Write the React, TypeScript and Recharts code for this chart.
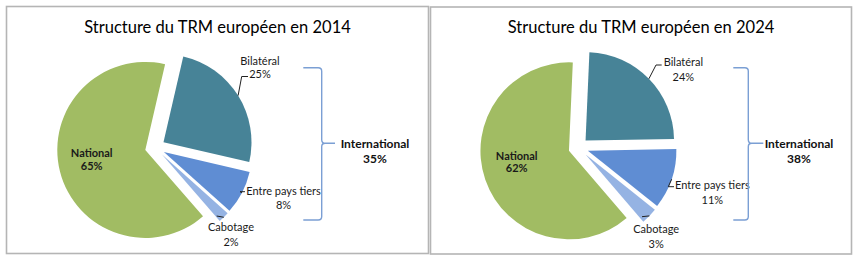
import React from "react";
import { PieChart, Pie, Cell } from "recharts";

// parts of the European road freight market (TRM), in %
const categories = ["Bilatéral", "Entre pays tiers", "Cabotage", "National"];
const share2014 = [25, 8, 2, 65];
const share2024 = [24, 11, 3, 62];
const international2014 = 35;
const international2024 = 38;

const COLORS = ["#478397", "#5f8dd3", "#95b3e3", "#a1bc63"];
const FONT = "Lato, 'Open Sans', sans-serif";
const EXPLODE = 10;
const RAD = Math.PI / 180;

type Pt = [number, number];
type LabelCfg = { at: Pt; gap: number; leader?: Pt[]; bold?: boolean };

// label text / leader positions, relative to the pie centre
const labels2014: LabelCfg[] = [
  { at: [110, -82], gap: 13, leader: [[91.7, -66], [98, -66]] },
  { at: [133.5, 47.5], gap: 14, leader: [[90, 49.2], [95, 49.2]] },
  { at: [81, 84.2], gap: 14.3, leader: [[66.7, 73.5]] },
  { at: [-58.3, 10.2], gap: 13, bold: true },
];

const labels2024: LabelCfg[] = [
  { at: [110, -80.9], gap: 14.3, leader: [[82.6, -77.6], [88.3, -77.6]] },
  { at: [139, 41.7], gap: 14.7, leader: [[94.9, 44.1], [100.6, 44.1]] },
  { at: [82.8, 85.7], gap: 14.7, leader: [[68.6, 74.1]] },
  { at: [-56.7, 12.4], gap: 12, bold: true },
];

type PanelProps = {
  values: number[];
  left: number;
  cx: number;
  cy: number;
  r: number;
  firstAngle: number;
  labels: LabelCfg[];
};

function PiePanel({ values, left, cx, cy, r, firstAngle, labels }: PanelProps) {
  const data = categories.map((name, i) => ({ name, value: values[i] }));
  const total = values.reduce((a, b) => a + b, 0);
  const start = 90 - firstAngle;
  let acc = 0;
  const mids = values.map((v) => {
    const m = start - ((acc + v / 2) / total) * 360;
    acc += v;
    return m;
  });

  const renderLabel = (p: any, i: number) => {
    if (p.index !== i) return null;
    const cfg = labels[i];
    const m = p.midAngle * RAD;
    const sx = p.cx + p.outerRadius * Math.cos(m);
    const sy = p.cy - p.outerRadius * Math.sin(m);
    const pts = cfg.leader
      ? [[sx, sy], ...cfg.leader.map(([x, y]) => [cx + x, cy + y])]
      : null;
    const tx = cx + cfg.at[0];
    const ty = cy + cfg.at[1];
    return (
      <g key={"lbl" + i}>
        {pts && (
          <polyline
            points={pts.map((q) => q.join(",")).join(" ")}
            fill="none"
            stroke="#222"
            strokeWidth={1}
          />
        )}
        <text
          x={tx}
          y={ty}
          textAnchor="middle"
          dominantBaseline="central"
          fontFamily={FONT}
          fontSize={11}
          fontWeight={cfg.bold ? 700 : 400}
          fill="#1a1a1a"
        >
          {categories[i]}
        </text>
        <text
          x={tx}
          y={ty + cfg.gap}
          textAnchor="middle"
          dominantBaseline="central"
          fontFamily={FONT}
          fontSize={11}
          fontWeight={cfg.bold ? 700 : 400}
          fill="#1a1a1a"
        >
          {values[i]}%
        </text>
      </g>
    );
  };

  return (
    <div style={{ position: "absolute", left, top: 0 }}>
      <PieChart width={430} height={260}>
        {data.map((d, i) => (
          <Pie
            key={d.name}
            data={data}
            dataKey="value"
            nameKey="name"
            cx={cx + EXPLODE * Math.cos(mids[i] * RAD)}
            cy={cy - EXPLODE * Math.sin(mids[i] * RAD)}
            innerRadius={0}
            outerRadius={r}
            startAngle={start}
            endAngle={start - 360}
            stroke="none"
            labelLine={false}
            label={(p: any) => renderLabel(p, i)}
            isAnimationActive={false}
          >
            {data.map((_, j) => (
              <Cell key={j} fill={j === i ? COLORS[j] : "transparent"} />
            ))}
          </Pie>
        ))}
      </PieChart>
    </div>
  );
}

function Brace({ x0, x1, tip }: { x0: number; x1: number; tip: number }) {
  const top = 67.7;
  const mid = 143.3;
  const bot = 220;
  const c = 3.5;
  const d = `M${x0},${top} H${x1 - c} Q${x1},${top} ${x1},${top + c} V${mid - c} Q${x1},${mid} ${x1 + c},${mid} H${tip}
    M${x1 + c},${mid} Q${x1},${mid} ${x1},${mid + c} V${bot - c} Q${x1},${bot} ${x1 - c},${bot} H${x0}`;
  return <path d={d} fill="none" stroke="#7b9fd4" strokeWidth={1.4} />;
}

export default function App() {
  return (
    <div
      style={{
        position: "fixed",
        left: 0,
        top: 0,
        width: 860,
        height: 260,
        background: "#fff",
        overflow: "hidden",
      }}
    >
      <PiePanel
        values={share2014}
        left={0}
        cx={150}
        cy={142.5}
        r={88}
        firstAngle={13}
        labels={labels2014}
      />
      <PiePanel
        values={share2024}
        left={430}
        cx={143.4}
        cy={142.6}
        r={88.5}
        firstAngle={2.5}
        labels={labels2024}
      />
      <svg
        width={860}
        height={260}
        style={{ position: "absolute", left: 0, top: 0, pointerEvents: "none" }}
      >
        <rect x={6.5} y={6.5} width={422} height={247} fill="none" stroke="#b5b5b5" strokeWidth={1.6} />
        <rect x={430.5} y={7} width={421} height={247} fill="none" stroke="#b5b5b5" strokeWidth={1.6} />
        <g fontFamily={FONT} fill="#000">
          <text x={217.5} y={27} textAnchor="middle" dominantBaseline="central" fontSize={16.5}>
            Structure du TRM européen en 2014
          </text>
          <text x={641} y={27} textAnchor="middle" dominantBaseline="central" fontSize={16.5}>
            Structure du TRM européen en 2024
          </text>
        </g>
        <Brace x0={303.3} x1={321.7} tip={335} />
        <Brace x0={733.3} x1={748.3} tip={763.3} />
        <g fontFamily={FONT} fontWeight={700} fontSize={12} fill="#111" textAnchor="middle">
          <text x={375} y={143} dominantBaseline="central">International</text>
          <text x={375} y={158} dominantBaseline="central">{international2014}%</text>
          <text x={799} y={143} dominantBaseline="central">International</text>
          <text x={799} y={158} dominantBaseline="central">{international2024}%</text>
        </g>
      </svg>
    </div>
  );
}
